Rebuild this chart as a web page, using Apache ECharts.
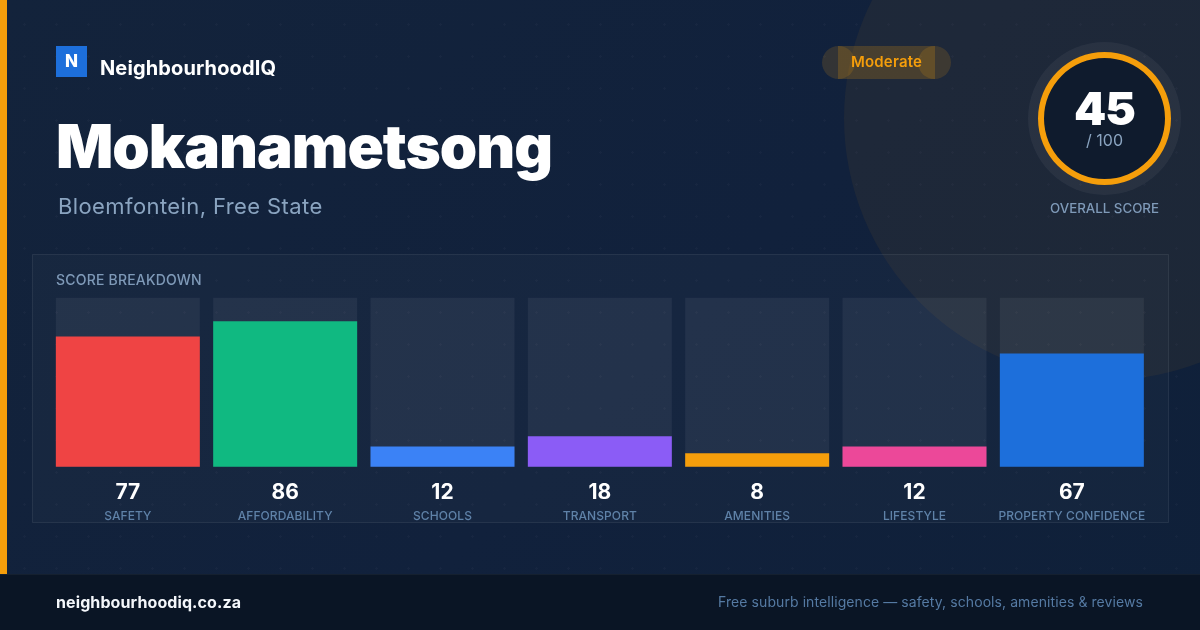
<!DOCTYPE html>
<html><head><meta charset="utf-8">
<script src="https://cdn.jsdelivr.net/npm/echarts@6/dist/echarts.min.js"></script>
<style>
html,body{margin:0;padding:0;width:1200px;height:630px;overflow:hidden}
body{background:
 radial-gradient(circle at 24.5px 24.5px, rgba(255,255,255,.025) 1px, transparent 1.2px) 0 0/32px 32px,
 linear-gradient(135deg,#13233b 0%,#11213c 55%,#0f2039 100%);}
#c{width:1200px;height:630px}
</style></head><body><div id="c"></div>
<script>
const categories=['SAFETY','AFFORDABILITY','SCHOOLS','TRANSPORT','AMENITIES','LIFESTYLE','PROPERTY CONFIDENCE'];
const scores=[77,86,12,18,8,12,67];
const barColors=['#ef4444','#10b981','#3b82f6','#8b5cf6','#f59e0b','#ec4899','#1d6fdb'];
const overallScore=45;
const overallMax=100;

const FONT='Inter';
const spacing={'900 60px':-1,'900 46px':-1,'700 20px':0.13,'500 14px':0.2,'400 22px':0.4,'400 14px':0.08,'700 16px':0.1,'600 15px':0.2,'500 12px':0.08};
const origFill=CanvasRenderingContext2D.prototype.fillText;
CanvasRenderingContext2D.prototype.fillText=function(t,x,y,m){
  const f=this.font.replace(/^bold\b/,'700');
  const mt=/^(\d+)\s+([\d.]+)px/.exec(f);
  const w=/^([\d.]+)px/.exec(f);
  const key=mt?mt[1]+' '+mt[2]+'px':(w?'400 '+w[1]+'px':'');
  this.letterSpacing=(spacing[key]||0)+'px';
  return m===undefined?origFill.call(this,t,x,y):origFill.call(this,t,x,y,m);
};
function txt(text,x,y,size,weight,fill,align){
  return {type:'text',silent:true,style:{text,x,y,fill,align:align||'left',verticalAlign:'middle',
    font:`${weight} ${size}px ${FONT}`}};
}
const AMBER='#f59e0b';
const chart=echarts.init(document.getElementById('c'),null,{renderer:'canvas',width:1200,height:630});
chart.setOption({
  backgroundColor:'transparent',
  animation:false,
  grid:{left:49.17,top:297.7,width:1101.33,height:169,containLabel:false},
  xAxis:{type:'category',data:categories,axisLine:{show:false},axisTick:{show:false},
    axisLabel:{interval:0,margin:13,hideOverlap:false,
      formatter:(v,i)=>`{v|${scores[i]}}\n{n|${v}}`,
      rich:{v:{fontFamily:FONT,fontSize:21,fontWeight:700,color:'#ffffff',lineHeight:25,align:'center'},
            n:{fontFamily:FONT,fontSize:12,fontWeight:500,color:'#5f82a8',lineHeight:24,align:'center'}}}},
  yAxis:{type:'value',min:0,max:100,show:false,splitLine:{show:false}},
  series:[{type:'bar',barWidth:144,silent:true,
    showBackground:true,backgroundStyle:{color:'rgba(255,255,255,0.06)'},
    data:scores.map((v,i)=>({value:v,itemStyle:{color:barColors[i]}}))}],
  graphic:{elements:[
    {type:'circle',silent:true,shape:{cx:1106,cy:118,r:262},style:{fill:'rgba(245,158,11,0.06)'}},
    {type:'rect',silent:true,shape:{x:32.5,y:254.5,width:1136,height:268},style:{fill:'rgba(255,255,255,0.025)',stroke:'rgba(255,255,255,0.08)',lineWidth:1}},
    {type:'rect',silent:true,shape:{x:0,y:0,width:7,height:574},style:{fill:AMBER}},
    {type:'rect',silent:true,shape:{x:0,y:574,width:1200,height:56},style:{fill:'#0a1525'}},
    {type:'rect',silent:true,shape:{x:0,y:574,width:1200,height:1},style:{fill:'#15202f'}},
    {type:'rect',silent:true,shape:{x:56,y:46,width:31,height:31},style:{fill:'#1d6fdb'}},
    txt('N',71.5,61.5,17,800,'#ffffff','center'),
    txt('NeighbourhoodIQ',100,68.5,20,700,'#ffffff'),
    txt('Mokanametsong',56,150,60,900,'#ffffff'),
    txt('Bloemfontein, Free State',58,207,22,400,'#8aa4c0'),
    {type:'rect',silent:true,shape:{x:838,y:46,width:97,height:33},style:{fill:'rgba(245,158,11,0.2)'}},
    {type:'circle',silent:true,shape:{cx:838.5,cy:62.5,r:16.5},style:{fill:'rgba(245,158,11,0.15)'}},
    {type:'circle',silent:true,shape:{cx:934.5,cy:62.5,r:16.5},style:{fill:'rgba(245,158,11,0.15)'}},
    txt('Moderate',886.5,62,15,600,AMBER,'center'),
    {type:'circle',silent:true,shape:{cx:1104.5,cy:118.5,r:76.5},style:{fill:'rgba(255,255,255,0.05)'}},
    {type:'circle',silent:true,shape:{cx:1104.5,cy:118.5,r:66},style:{fill:'#0f1b2d'}},
    {type:'ring',silent:true,shape:{cx:1104.5,cy:118.5,r:66.5,r0:60.5},style:{fill:AMBER}},
    txt(String(overallScore),1104.5,111,46,900,'#ffffff','center'),
    txt('/ '+overallMax,1104.5,141.5,16,400,'#8aa4c0','center'),
    txt('OVERALL SCORE',1104.5,208.5,13.3,500,'#7f9ab8','center'),
    txt('SCORE BREAKDOWN',56,281,14,500,'#7f9ab8'),
    txt('neighbourhoodiq.co.za',56,603,16,700,'#f4f7fb'),
    txt('Free suburb intelligence \u2014 safety, schools, amenities & reviews',1143,602.5,14,400,'#557aa3','right')
  ]}
});
</script></body></html>
